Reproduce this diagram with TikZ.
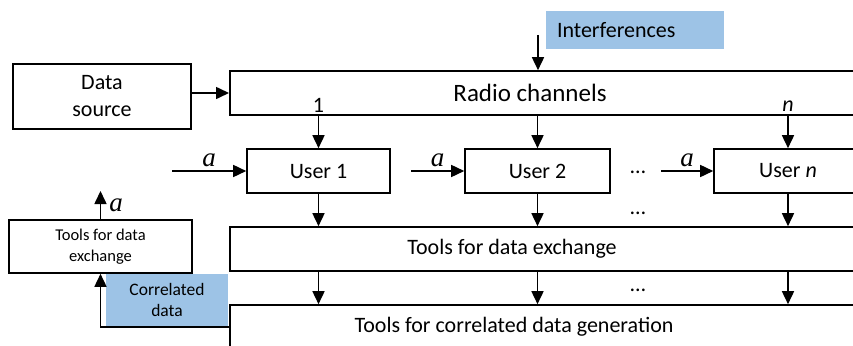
\documentclass[tikz,border=0pt]{standalone}
\usepackage{fontspec}
\setmainfont{Carlito}
\newfontfamily\timesfont{Liberation Serif}
\usetikzlibrary{arrows.meta}
\definecolor{paleblue}{RGB}{157,195,230}

\tikzset{
  box/.style={draw, line width=1.6pt, minimum height=44pt, inner sep=0pt},
  wide/.style={box, minimum width=700pt, anchor=west},
  tag/.style={fill=paleblue, inner sep=0pt},
  arr/.style={-{Triangle[length=13pt,width=12pt]}, line width=1.6pt},
  big/.style={font=\fontsize{22}{27}\selectfont, align=center},
  small/.style={font=\fontsize{16.5}{20.5}\selectfont, align=center},
  lbl/.style={font=\timesfont\itshape\fontsize{27}{27}\selectfont, inner sep=3pt},
  num/.style={font=\fontsize{22}{22}\selectfont, inner sep=0pt},
}

\begin{document}
\begin{tikzpicture}[x=1pt,y=-1pt]
  \clip (0,0) rectangle (853,345);
  \fill[white] (0,0) rectangle (853,345);
  % blue tags
  \node[tag, big, text width=156pt, align=left, inner xsep=11pt, minimum height=38pt] (intf) at (635,30) {Interferences};
  \node[tag, small, font=\fontsize{17.5}{21}\selectfont, minimum width=122pt, minimum height=52pt] (corr) at (167,300) {Correlated\\data};
  % boxes
  \node[box, big, minimum width=178pt, minimum height=65pt] (src) at (102,96.5) {Data\\source};
  \node[wide] (radio) at (229,93) {};
  \node[font=\fontsize{25}{25}\selectfont] (radiotxt) at (530,93) {Radio channels};
  \node[box, big, minimum width=143pt] (u1) at (318.5,171) {User 1};
  \node[box, big, minimum width=145pt] (u2) at (537.5,171) {User 2};
  \node[box, big, minimum width=148pt] (un) at (788,171) {User \textit{n}};
  \node[wide] (xchg) at (229,249) {};
  \node[big] (xchgtxt) at (512,249) {Tools for data exchange};
  \node[wide] (gen) at (229,327) {};
  \node[big] (gentxt) at (514,327) {Tools for correlated data generation};
  \node[box, small, minimum width=183pt, minimum height=53pt] (tools) at (100.5,246.5) {Tools for data\\exchange};
  % labels and dots
  \node[num] (one) at (318.5,105) {1};
  \node[num] (enn) at (788,106) {\textit{n}};
  \node[big] (dots1) at (638,172) {\dots};
  \node[big] (dots2) at (638,213) {\dots};
  \node[big] (dots3) at (638,290) {\dots};
  % free ends
  \coordinate (intfin) at (538,35);
  \coordinate (a1) at (172,171);
  \coordinate (a2) at (411,171);
  \coordinate (an) at (661,171);
  \coordinate (aout) at (100.5,191);
  \path[arr]
    (src.east |- radio.west) edge (radio.west)
    (intfin) edge (intfin |- radio.north)
    (u1 |- radio.south) edge (u1)
    (u2 |- radio.south) edge (u2)
    (un |- radio.south) edge (un)
    (a1) edge node[lbl, above] {a} (u1)
    (a2) edge node[lbl, above] {a} (u2)
    (an) edge node[lbl, above] {a} (un)
    (u1) edge (u1 |- xchg.north)
    (u2) edge (u2 |- xchg.north)
    (un) edge (un |- xchg.north)
    (u1 |- xchg.south) edge (u1 |- gen.north)
    (u2 |- xchg.south) edge (u2 |- gen.north)
    (un |- xchg.south) edge (un |- gen.north)
    (tools) edge node[lbl, right, xshift=5pt] {a} (aout);
  \draw[arr] (gen.west) -| (tools.south);
\end{tikzpicture}
\end{document}
